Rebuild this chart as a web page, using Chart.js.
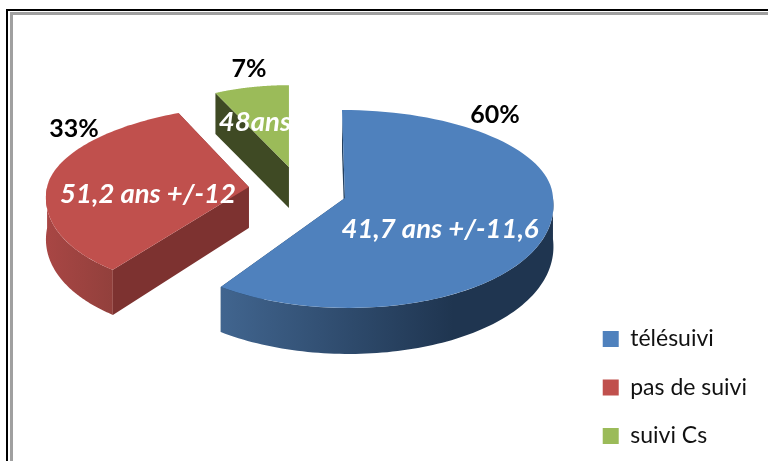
<!DOCTYPE html>
<html>
<head>
<meta charset="utf-8">
<title>Suivi</title>
<script src="https://cdn.jsdelivr.net/npm/chart.js@4"></script>
<style>
    html, body { margin: 0; padding: 0; background: #fff; overflow: hidden; }
    #wrap { position: relative; width: 768px; height: 461px; overflow: hidden; }
    #frame { position: absolute; left: 6px; top: 9px; width: 800px; height: 500px; border: 2px solid #000; box-sizing: border-box; }
    #frame2 { position: absolute; left: 10px; top: 12px; width: 800px; height: 500px; border: 3px solid #a0a0a0; box-sizing: border-box; }
    canvas { position: absolute; left: 0; top: 0; }
</style>
</head>
<body>
<div id="wrap">
    <div id="frame"></div>
    <div id="frame2"></div>
    <canvas id="pie" width="768" height="461"></canvas>
</div>
<script>
// --- DATA ---
const categories = ['télésuivi', 'pas de suivi', 'suivi Cs'];
const shares = [60, 33, 7];
const ageLabels = ['41,7 ans +/-11,6', '51,2 ans +/-12', '48ans'];

// --- LOOK ---
const topColors = ['#4f81bd', '#c0504d', '#9bbb59'];
const cutColors = ['#24405f', '#7d3230', '#3f4a24'];
const wallLeft = ['#41658f', '#a84644', '#5a6e33'];
const wallRight = ['#1f3550', '#92403c', '#3f4a24'];

const tilt = { x: 301.6, y: 193.4, sx: 2.08, syFar: 0.88, syNear: 1.1, depth: 41, nearDepth: 5 };
const explode = [45.6, 53, 58];        // radial gap of each slice, page px
const lift = [-2, -4, 0];              // small vertical nudge of each slice
const scaleX = [1, 0.97, 0.83];        // far slices look smaller
const scaleY = [1, 0.93, 0.93];
const shear = [0.034, -0.21, 0];       // perspective lean of each slice
const nearWiden = [0.05, 0, 0];
const percentSpots = [[495, 115], [74, 129], [249, 69]];
const ageSpots = [[440, 229], [148, 194], [255, 122]];

// Pie in page space: arc geometry comes from the chart, then gets tilted
function pagePoint(arc, i, angle, r) {
    const mid = (arc.startAngle + arc.endAngle) / 2;
    const sin = Math.sin(angle);
    const dy = sin * r * scaleY[i] * (sin < 0 ? tilt.syFar : tilt.syNear);
    const widen = 1 + nearWiden[i] * Math.max(sin, 0);
    const dx = Math.cos(angle) * r * tilt.sx * scaleX[i] * widen + shear[i] * dy;
    return {
        x: tilt.x + Math.cos(mid) * explode[i] + dx,
        y: tilt.y + lift[i] + Math.sin(mid) * explode[i] * 0.466 + dy
    };
}

// walls get a bit taller towards the viewer
function depthAt(angle) {
    return tilt.depth + tilt.nearDepth * Math.max(Math.sin(angle), 0);
}

function traceRim(ctx, arc, i, from, to, walled, reverse) {
    const steps = 90;
    for (let s = 0; s <= steps; s++) {
        const k = reverse ? 1 - s / steps : s / steps;
        const angle = from + (to - from) * k;
        const p = pagePoint(arc, i, angle, arc.outerRadius);
        ctx.lineTo(p.x, p.y + (walled ? depthAt(angle) : 0));
    }
}

function drawCutWall(ctx, arc, i, angle) {
    const c = pagePoint(arc, i, angle, 0);
    const p = pagePoint(arc, i, angle, arc.outerRadius);
    ctx.beginPath();
    ctx.moveTo(c.x, c.y);
    ctx.lineTo(p.x, p.y);
    ctx.lineTo(p.x, p.y + depthAt(angle));
    ctx.lineTo(c.x, c.y + tilt.depth);
    ctx.closePath();
    ctx.fillStyle = cutColors[i];
    ctx.fill();
}

function drawOuterWall(ctx, arc, i) {
    // only the part of the rim that faces the viewer (angles 0..PI)
    const a0 = Math.max(arc.startAngle, 0);
    const a1 = Math.min(arc.endAngle, Math.PI);
    if (a1 <= a0) return;
    const left = pagePoint(arc, i, a1, arc.outerRadius);
    const right = pagePoint(arc, i, a0, arc.outerRadius);
    const grad = ctx.createLinearGradient(left.x, 0, right.x, 0);
    grad.addColorStop(0, wallLeft[i]);
    grad.addColorStop(i === 0 ? 0.7 : 1, wallRight[i]);
    grad.addColorStop(1, wallRight[i]);
    ctx.beginPath();
    traceRim(ctx, arc, i, a0, a1, false, false);
    traceRim(ctx, arc, i, a0, a1, true, true);
    ctx.closePath();
    ctx.fillStyle = grad;
    ctx.fill();
}

function drawTop(ctx, arc, i) {
    const c = pagePoint(arc, i, arc.startAngle, 0);
    ctx.beginPath();
    ctx.moveTo(c.x, c.y);
    traceRim(ctx, arc, i, arc.startAngle, arc.endAngle, false, false);
    ctx.closePath();
    ctx.fillStyle = topColors[i];
    ctx.fill();
}

const tiltedPie = {
    id: 'tiltedPie',
    beforeDatasetsDraw(chart) {
        const ctx = chart.ctx;
        const arcs = chart.getDatasetMeta(0).data;
        ctx.save();
        arcs.forEach((arc, i) => {
            drawCutWall(ctx, arc, i, arc.startAngle);
            drawCutWall(ctx, arc, i, arc.endAngle);
            drawOuterWall(ctx, arc, i);
            drawTop(ctx, arc, i);
        });
        ctx.restore();
        return false; // the flat pie itself is replaced by the tilted one
    },
    afterDraw(chart) {
        const ctx = chart.ctx;
        ctx.save();
        ctx.textAlign = 'center';
        ctx.textBaseline = 'middle';
        shares.forEach((v, i) => {
            ctx.font = 'bold 25px Lato';
            ctx.fillStyle = '#000';
            ctx.fillText(v + '%', percentSpots[i][0], percentSpots[i][1]);
            ctx.font = 'italic bold 27.5px Lato';
            ctx.fillStyle = '#fff';
            ctx.fillText(ageLabels[i], ageSpots[i][0], ageSpots[i][1]);
        });
        ctx.restore();
    }
};

new Chart(document.getElementById('pie'), {
    type: 'pie',
    data: {
        labels: categories,
        datasets: [{ data: shares, backgroundColor: topColors, borderWidth: 0, radius: 100 }]
    },
    options: {
        responsive: false,
        animation: false,
        layout: { padding: { right: 11, bottom: -12 } },
        plugins: {
            tooltip: { enabled: false },
            legend: {
                position: 'right',
                align: 'end',
                labels: {
                    boxWidth: 16,
                    boxHeight: 16,
                    padding: 25.5,
                    color: '#111',
                    font: { family: 'Lato', size: 23 }
                }
            }
        }
    },
    plugins: [tiltedPie]
});
</script>
</body>
</html>
